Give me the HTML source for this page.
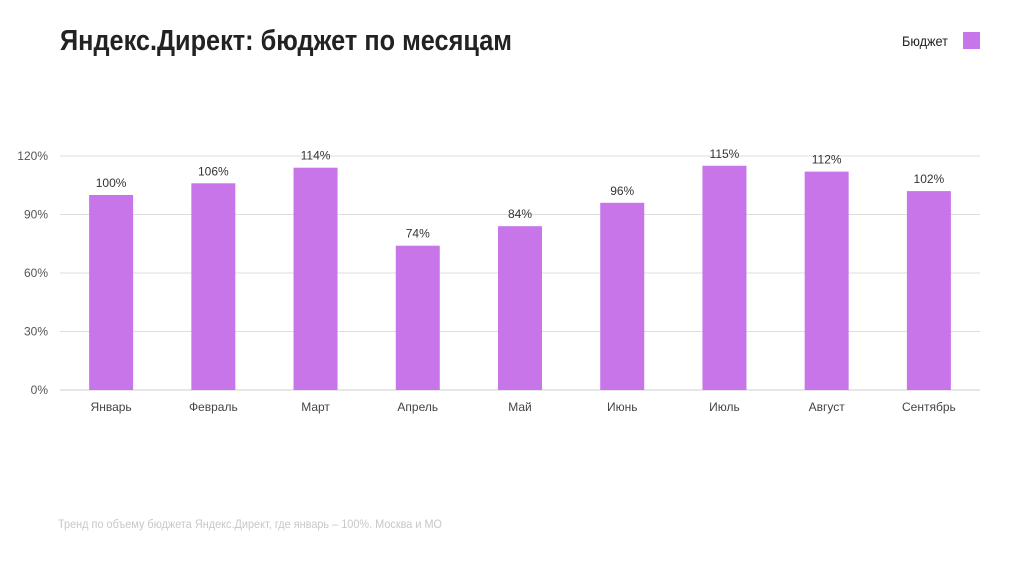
<!DOCTYPE html>
<html><head><meta charset="utf-8">
<style>
body{margin:0;background:#fff;width:1025px;height:563px;overflow:hidden;font-family:"Liberation Sans",sans-serif}
svg{display:block}
</style></head>
<body>
<svg width="1025" height="563">
<text x="60" y="50" font-size="29" font-weight="bold" fill="#222" textLength="452" lengthAdjust="spacingAndGlyphs">Яндекс.Директ: бюджет по месяцам</text>
<text x="948" y="46" font-size="14" fill="#222" text-anchor="end" textLength="46" lengthAdjust="spacingAndGlyphs">Бюджет</text>
<rect x="963" y="32" width="17" height="17" fill="#c975ea"/>
<g id="grid"></g><g id="bars"></g>
<text x="58" y="528" font-size="12" fill="#c8c8c8" textLength="384" lengthAdjust="spacingAndGlyphs">Тренд по объему бюджета Яндекс.Директ, где январь – 100%. Москва и МО</text>
</svg>
<script>
const categories=["Январь","Февраль","Март","Апрель","Май","Июнь","Июль","Август","Сентябрь"];
const values=[100,106,114,74,84,96,115,112,102];
const ticks=[0,30,60,90,120];
const NS="http://www.w3.org/2000/svg";
const x0=60,x1=980,y0=390,y1=156,maxV=120;
const y=v=>y0-(y0-y1)*v/maxV;
const band=(x1-x0)/categories.length;
const xc=i=>x0+band*(i+0.5);
function mk(tag,attrs,parent,txt){const e=document.createElementNS(NS,tag);for(const k in attrs)e.setAttribute(k,attrs[k]);if(txt!=null)e.textContent=txt;parent.appendChild(e);return e;}
const grid=document.getElementById('grid'),bars=document.getElementById('bars');
ticks.forEach(t=>{
 const l=mk('line',{x1:x0,x2:x1,y1:y(t),y2:y(t),stroke:t===0?'#ccc':'#ddd','stroke-width':1},grid);
 
 
 const tx=mk('text',{x:48,y:y(t)+4,'font-size':12,fill:'#555','text-anchor':'end'},grid,t+'%');
 
 
});
categories.forEach((c,i)=>{
 const r=mk('rect',{x:xc(i)-22,y:y(values[i]),width:44,height:y0-y(values[i]),fill:'#c975ea'},bars);
 
 
 const v=mk('text',{x:xc(i),y:y(values[i])-8,'font-size':12,fill:'#333','text-anchor':'middle'},bars,values[i]+'%');
 
 
 const lb=mk('text',{x:xc(i),y:411,'font-size':12,fill:'#444','text-anchor':'middle'},bars,c);
 
 
});
</script>
</body></html>
